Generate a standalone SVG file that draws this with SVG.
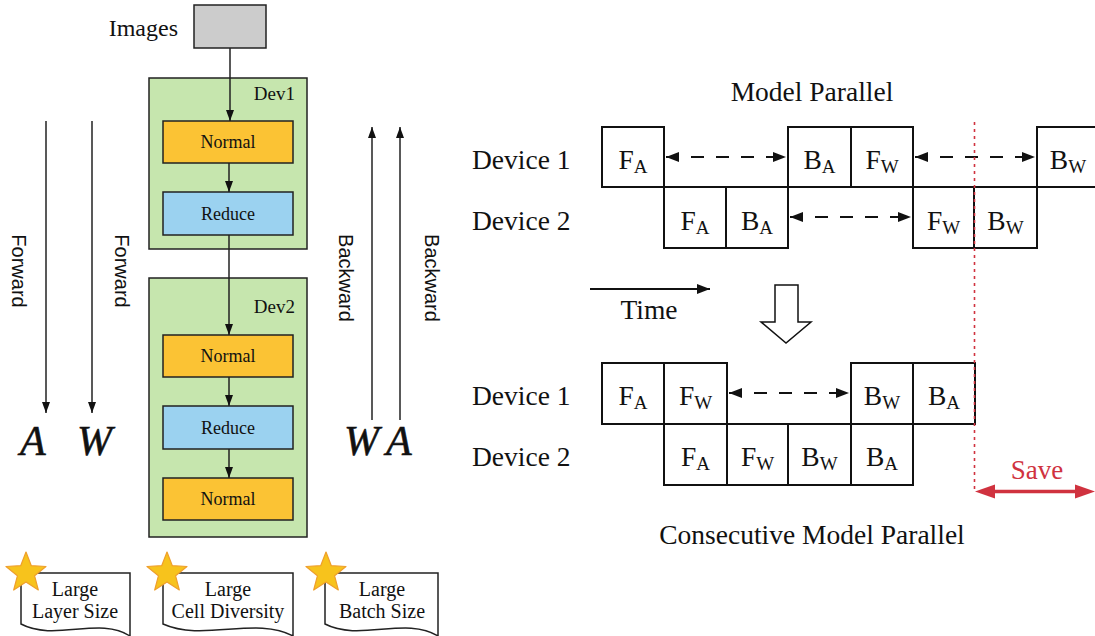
<svg xmlns="http://www.w3.org/2000/svg" width="1095" height="636" viewBox="0 0 1095 636">
  <style>
    .serif { font-family: "Liberation Serif", "Times New Roman", serif; fill: #111; }
    .sans { font-family: "Liberation Sans", Arial, sans-serif; fill: #111; }
    .blk { stroke: #222; stroke-width: 1.5; fill: none; }
    .box { stroke: #222; stroke-width: 1.5; }
    .cell { fill: #fff; stroke: #111; stroke-width: 2; }
    .dash { stroke: #111; stroke-width: 2; stroke-dasharray: 13 12; fill: none; }
    .lbl { font-family: "Liberation Serif", "Times New Roman", serif; font-size: 18px; fill: #111; text-anchor: middle; }
    .big { font-family: "Liberation Serif", "Times New Roman", serif; font-size: 27.5px; fill: #111; }
    .math { font-family: "Liberation Serif", "Times New Roman", serif; font-size: 42px; font-style: italic; fill: #111; stroke: #111; stroke-width: 0.6; }
    .note { fill: #fff; stroke: #222; stroke-width: 1.5; }
    .ntxt { font-family: "Liberation Serif", "Times New Roman", serif; font-size: 20px; fill: #111; text-anchor: middle; }
    .star { fill: #f7c31c; stroke: #ef9f2c; stroke-width: 1.2; stroke-linejoin: round; }
    .red { fill: #d0323f; }
  </style>
  <defs>
    <marker id="ah" viewBox="0 0 11 8" refX="11" refY="4" markerWidth="11" markerHeight="8" markerUnits="userSpaceOnUse" orient="auto">
      <path d="M0,0 L11,4 L0,8 Z" fill="#111"/>
    </marker>
    <marker id="ahd" viewBox="0 0 13 10" refX="13" refY="5" markerWidth="13" markerHeight="10" markerUnits="userSpaceOnUse" orient="auto-start-reverse">
      <path d="M0,0 L13,5 L0,10 Z" fill="#111"/>
    </marker>
    <path id="starShape" class="star" d="M0,-21 L5.3,-7.3 L20,-6.5 L8.6,2.8 L12.3,17 L0,9 L-12.3,17 L-8.6,2.8 L-20,-6.5 L-5.3,-7.3 Z"/>
  </defs>

  <!-- input -->
  <g id="images">
    <rect x="194" y="5" width="72" height="43" fill="#cccccc" class="box"/>
    <text class="serif" x="178" y="36" font-size="24" text-anchor="end">Images</text>
  </g>

  <!-- device 1 -->
  <g id="dev1">
    <rect x="149" y="78" width="158" height="171" fill="#c6e6ae" class="box"/>
    <text class="serif" x="295" y="100" font-size="19" text-anchor="end">Dev1</text>
  </g>
  <g id="dev1-normal">
    <rect x="163" y="121" width="130" height="42" fill="#fbc334" class="box"/>
    <text class="lbl" x="228" y="148">Normal</text>
  </g>
  <g id="dev1-reduce">
    <rect x="163" y="192" width="130" height="43" fill="#9bd2f0" class="box"/>
    <text class="lbl" x="228" y="220">Reduce</text>
  </g>

  <!-- device 2 -->
  <g id="dev2">
    <rect x="149" y="278" width="158" height="259" fill="#c6e6ae" class="box"/>
    <text class="serif" x="295" y="313" font-size="19" text-anchor="end">Dev2</text>
  </g>
  <g id="dev2-normal1">
    <rect x="163" y="335" width="130" height="42" fill="#fbc334" class="box"/>
    <text class="lbl" x="228" y="362">Normal</text>
  </g>
  <g id="dev2-reduce">
    <rect x="163" y="406" width="130" height="43" fill="#9bd2f0" class="box"/>
    <text class="lbl" x="228" y="434">Reduce</text>
  </g>
  <g id="dev2-normal2">
    <rect x="163" y="478" width="130" height="42" fill="#fbc334" class="box"/>
    <text class="lbl" x="228" y="505">Normal</text>
  </g>

  <!-- direction arrows -->
  <g id="forward-a">
    <line x1="46" y1="121" x2="46" y2="413" class="blk" marker-end="url(#ah)"/>
    <text class="sans" font-size="20" text-anchor="middle" dominant-baseline="central" transform="translate(19,271) rotate(90)">Forward</text>
    <text class="math" x="20" y="455">A</text>
  </g>
  <g id="forward-w">
    <line x1="92" y1="121" x2="92" y2="413" class="blk" marker-end="url(#ah)"/>
    <text class="sans" font-size="20" text-anchor="middle" dominant-baseline="central" transform="translate(122,271) rotate(90)">Forward</text>
    <text class="math" x="77" y="455">W</text>
  </g>
  <g id="backward-w">
    <line x1="372" y1="420" x2="372" y2="127" class="blk" marker-end="url(#ah)"/>
    <text class="sans" font-size="20" text-anchor="middle" dominant-baseline="central" transform="translate(346,278) rotate(90)">Backward</text>
    <text class="math" x="344" y="455">W</text>
  </g>
  <g id="backward-a">
    <line x1="400" y1="420" x2="400" y2="127" class="blk" marker-end="url(#ah)"/>
    <text class="sans" font-size="20" text-anchor="middle" dominant-baseline="central" transform="translate(432,278) rotate(90)">Backward</text>
    <text class="math" x="386" y="455">A</text>
  </g>

  <!-- data flow connectors -->
  <g id="connectors">
    <line x1="230" y1="48" x2="230" y2="121" class="blk" marker-end="url(#ah)"/>
    <line x1="229" y1="163" x2="229" y2="192" class="blk" marker-end="url(#ah)"/>
    <line x1="229" y1="235" x2="229" y2="335" class="blk" marker-end="url(#ah)"/>
    <line x1="229" y1="377" x2="229" y2="406" class="blk" marker-end="url(#ah)"/>
    <line x1="229" y1="449" x2="229" y2="478" class="blk" marker-end="url(#ah)"/>
  </g>

  <!-- property notes -->
  <g id="note-layer">
    <path class="note" d="M21,573 H130 V636 C100,616 55,642 21,624 Z"/>
    <use href="#starShape" x="26" y="573"/>
    <text class="ntxt" x="75" y="596">Large</text>
    <text class="ntxt" x="75" y="618">Layer Size</text>
  </g>
  <g id="note-cell">
    <path class="note" d="M163,573 H293 V636 C257,616 203,642 163,624 Z"/>
    <use href="#starShape" x="167" y="573"/>
    <text class="ntxt" x="228" y="596">Large</text>
    <text class="ntxt" x="228" y="618">Cell Diversity</text>
  </g>
  <g id="note-batch">
    <path class="note" d="M325,573 H438 V636 C406,616 360,642 325,624 Z"/>
    <use href="#starShape" x="326" y="573"/>
    <text class="ntxt" x="382" y="596">Large</text>
    <text class="ntxt" x="382" y="618">Batch Size</text>
  </g>

  <!-- model parallel schedule -->
  <g id="mp-title">
    <text class="big" x="812" y="101" text-anchor="middle">Model Parallel</text>
  </g>
  <g id="mp-labels">
    <text class="big" x="472" y="169">Device 1</text>
    <text class="big" x="472" y="230">Device 2</text>
  </g>
  <g id="mp-dev1">
    <rect class="cell" x="602" y="127" width="62" height="60"/>
    <text class="big" x="633" y="169" text-anchor="middle">F<tspan font-size="19" dy="4">A</tspan></text>
    <rect class="cell" x="788" y="127" width="63" height="60"/>
    <text class="big" x="819.5" y="169" text-anchor="middle">B<tspan font-size="19" dy="4">A</tspan></text>
    <rect class="cell" x="851" y="127" width="62" height="60"/>
    <text class="big" x="882" y="169" text-anchor="middle">F<tspan font-size="19" dy="4">W</tspan></text>
    <rect class="cell" x="1037" y="127" width="62" height="60"/>
    <text class="big" x="1068" y="169" text-anchor="middle">B<tspan font-size="19" dy="4">W</tspan></text>
  </g>
  <g id="mp-dev2">
    <rect class="cell" x="664" y="187" width="62" height="61"/>
    <text class="big" x="695" y="230" text-anchor="middle">F<tspan font-size="19" dy="4">A</tspan></text>
    <rect class="cell" x="726" y="187" width="62" height="61"/>
    <text class="big" x="757" y="230" text-anchor="middle">B<tspan font-size="19" dy="4">A</tspan></text>
    <rect class="cell" x="913" y="187" width="61" height="61"/>
    <text class="big" x="943.5" y="230" text-anchor="middle">F<tspan font-size="19" dy="4">W</tspan></text>
    <rect class="cell" x="974" y="187" width="63" height="61"/>
    <text class="big" x="1005.5" y="230" text-anchor="middle">B<tspan font-size="19" dy="4">W</tspan></text>
  </g>
  <g id="mp-links">
    <line class="dash" x1="666" y1="157" x2="786" y2="157" marker-start="url(#ahd)" marker-end="url(#ahd)"/>
    <line class="dash" x1="915" y1="157" x2="1035" y2="157" marker-start="url(#ahd)" marker-end="url(#ahd)"/>
    <line class="dash" x1="790" y1="217" x2="911" y2="217" marker-start="url(#ahd)" marker-end="url(#ahd)"/>
  </g>

  <!-- time axis and transition -->
  <g id="time">
    <line x1="590" y1="289" x2="710" y2="289" stroke="#111" stroke-width="2" marker-end="url(#ahd)"/>
    <text class="big" x="649" y="319" text-anchor="middle">Time</text>
  </g>
  <g id="transition">
    <path d="M775,285 H798 V322 H811 L786,343 L761,322 H775 Z" fill="#fff" stroke="#111" stroke-width="1.5"/>
  </g>

  <!-- consecutive model parallel schedule -->
  <g id="cmp-labels">
    <text class="big" x="472" y="405">Device 1</text>
    <text class="big" x="472" y="466">Device 2</text>
  </g>
  <g id="cmp-dev1">
    <rect class="cell" x="602" y="363" width="62" height="61"/>
    <text class="big" x="633" y="405" text-anchor="middle">F<tspan font-size="19" dy="4">A</tspan></text>
    <rect class="cell" x="664" y="363" width="63" height="61"/>
    <text class="big" x="695.5" y="405" text-anchor="middle">F<tspan font-size="19" dy="4">W</tspan></text>
    <rect class="cell" x="851" y="363" width="62" height="61"/>
    <text class="big" x="882" y="405" text-anchor="middle">B<tspan font-size="19" dy="4">W</tspan></text>
    <rect class="cell" x="913" y="363" width="62" height="61"/>
    <text class="big" x="944" y="405" text-anchor="middle">B<tspan font-size="19" dy="4">A</tspan></text>
  </g>
  <g id="cmp-dev2">
    <rect class="cell" x="664" y="424" width="63" height="61"/>
    <text class="big" x="695.5" y="466" text-anchor="middle">F<tspan font-size="19" dy="4">A</tspan></text>
    <rect class="cell" x="727" y="424" width="61" height="61"/>
    <text class="big" x="757.5" y="466" text-anchor="middle">F<tspan font-size="19" dy="4">W</tspan></text>
    <rect class="cell" x="788" y="424" width="63" height="61"/>
    <text class="big" x="819.5" y="466" text-anchor="middle">B<tspan font-size="19" dy="4">W</tspan></text>
    <rect class="cell" x="851" y="424" width="62" height="61"/>
    <text class="big" x="882" y="466" text-anchor="middle">B<tspan font-size="19" dy="4">A</tspan></text>
  </g>
  <g id="cmp-links">
    <line class="dash" x1="729" y1="393" x2="849" y2="393" marker-start="url(#ahd)" marker-end="url(#ahd)"/>
  </g>
  <g id="cmp-title">
    <text class="big" x="812" y="544" text-anchor="middle">Consecutive Model Parallel</text>
  </g>

  <!-- saved time -->
  <g id="save">
    <line x1="974.5" y1="122" x2="974.5" y2="490" stroke="#d0323f" stroke-width="1.6" stroke-dasharray="3 4"/>
    <line x1="990" y1="491.5" x2="1080" y2="491.5" stroke="#d0323f" stroke-width="3.5"/>
    <path class="red" d="M975,491.5 L995,484.5 L995,498.5 Z"/>
    <path class="red" d="M1095,491.5 L1075,484.5 L1075,498.5 Z"/>
    <text x="1037" y="479" font-family="Liberation Serif, Times New Roman, serif" font-size="27" fill="#d0323f" text-anchor="middle">Save</text>
  </g>
</svg>
